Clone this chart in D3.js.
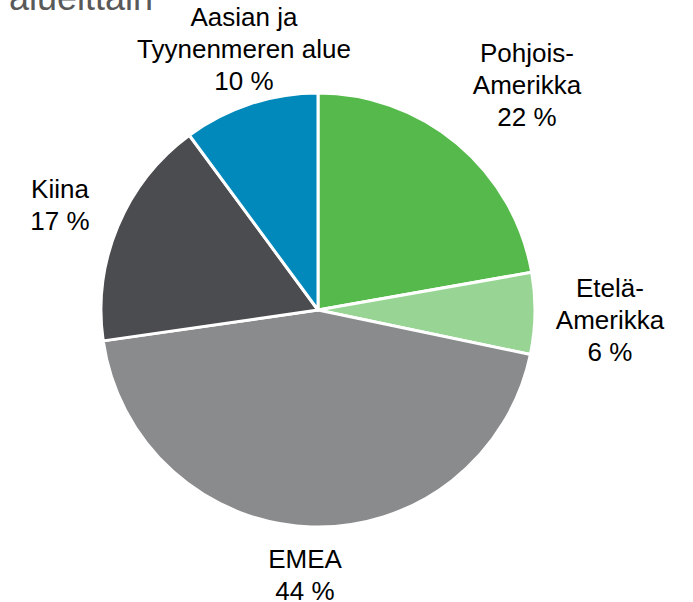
<!DOCTYPE html>
<html>
<head>
<meta charset="utf-8">
<script src="https://cdn.jsdelivr.net/npm/d3@7"></script>
<style>
  body { margin: 0; background: #fff; }
  text { font-family: "Liberation Sans", Arial, sans-serif; }
</style>
</head>
<body>
<div id="chart"></div>
<script>
// Chart data
var regions = ["Pohjois-Amerikka", "Etelä-Amerikka", "EMEA", "Kiina", "Aasian ja Tyynenmeren alue"];
var shares = [22, 6, 44, 17, 10];
var colors = ["#55b94b", "#98d595", "#8a8b8d", "#4b4c4f", "#0089ba"];
// label lines (text) for each slice
var labelLines = [
    ["Pohjois-", "Amerikka", "22 %"],
    ["Etelä-", "Amerikka", "6 %"],
    ["EMEA", "44 %"],
    ["Kiina", "17 %"],
    ["Aasian ja", "Tyynenmeren alue", "10 %"]
];

// Layout
var svgWidth = 693;
var svgHeight = 602;
var cx = 318, cy = 310, radius = 217;
var lineHeight = 32;
// first baseline of each label (x centre, y baseline)
var labelAnchor = [[527, 62], [610, 297], [305, 568], [60, 198], [244, 26]];

var svg = d3.select("#chart")
    .append("svg")
    .attr("width", svgWidth)
    .attr("height", svgHeight);

// Title, cut off at the top-left as in the source slide
svg.append("text")
    .attr("x", 153)
    .attr("y", 10)
    .attr("text-anchor", "end")
    .attr("font-size", 36)
    .attr("fill", "#595959")
    .text("Liikevaihto alueittain");

var pie = d3.pie()
    .sort(null)
    .value(d => d);

var arc = d3.arc()
    .innerRadius(0)
    .outerRadius(radius);

var pieGroup = svg.append("g")
    .attr("transform", `translate(${cx}, ${cy})`);

pieGroup.selectAll("path")
    .data(pie(shares))
    .enter()
    .append("path")
    .attr("d", arc)
    .attr("fill", (d, i) => colors[i])
    .attr("stroke", "#fff")
    .attr("stroke-width", 3)
    .attr("stroke-linejoin", "round");

// Data labels
var labels = svg.selectAll("g.label")
    .data(regions)
    .enter()
    .append("g")
    .attr("class", "label");

labels.each(function (d, i) {
    var t = d3.select(this).append("text")
        .attr("text-anchor", "middle")
        .attr("font-size", 26)
        .attr("fill", "#000");
    labelLines[i].forEach(function (line, j) {
        t.append("tspan")
            .attr("x", labelAnchor[i][0])
            .attr("y", labelAnchor[i][1] + j * lineHeight)
            .text(line);
    });
});
</script>
</body>
</html>
